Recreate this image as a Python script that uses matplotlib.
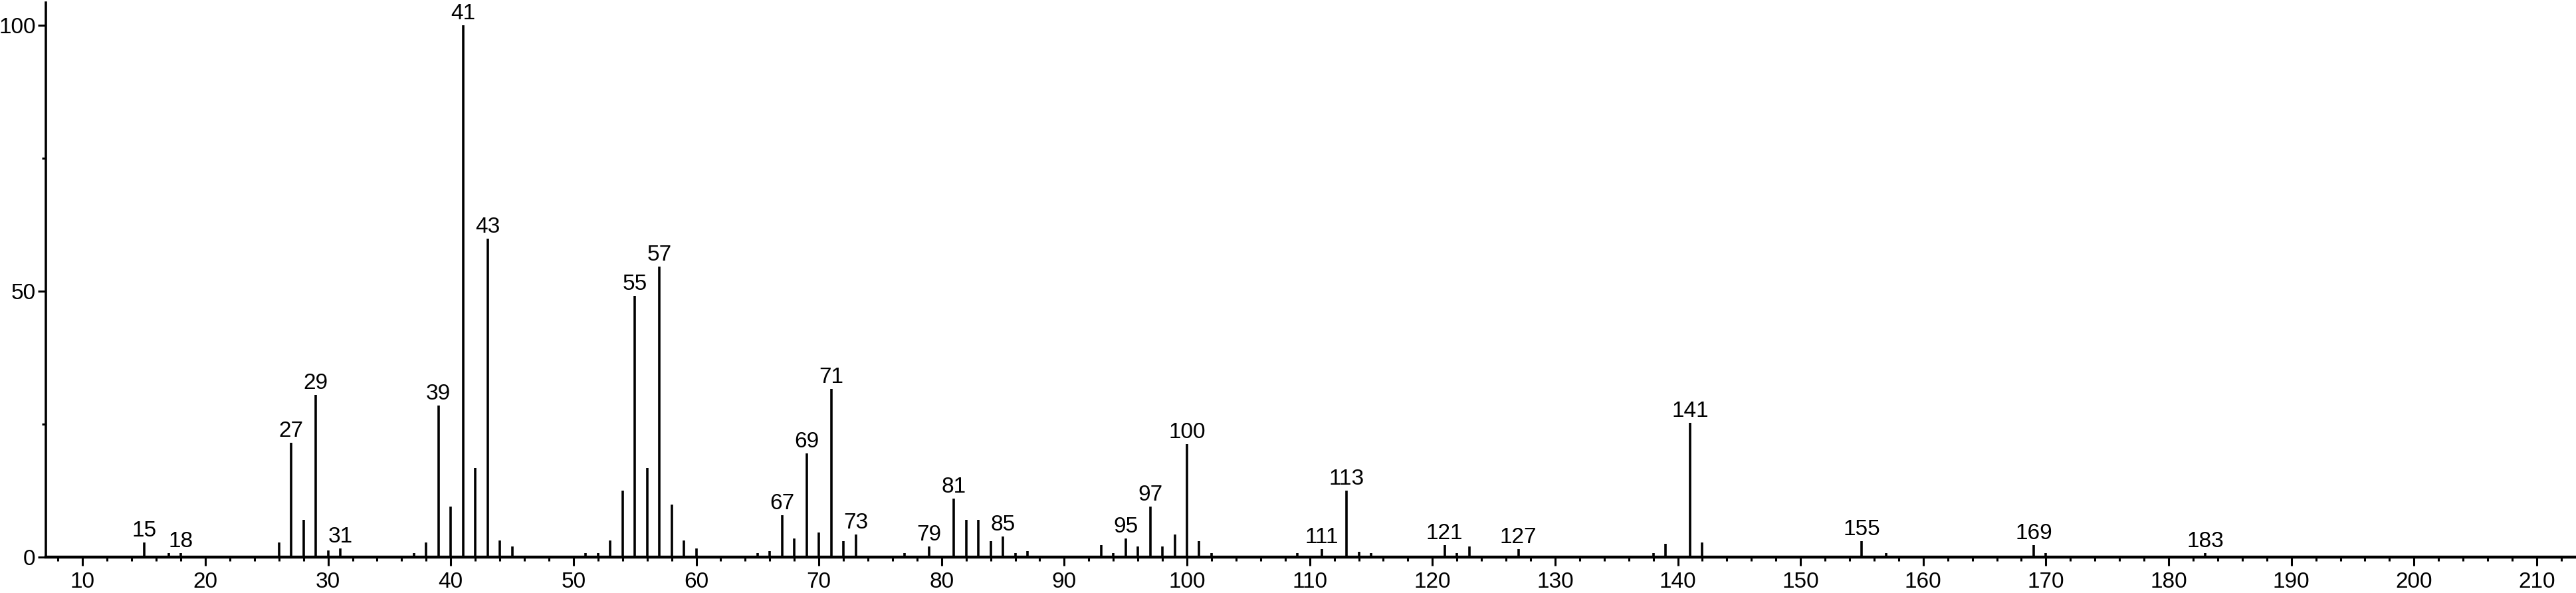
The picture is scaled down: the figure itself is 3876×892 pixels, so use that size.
import matplotlib.pyplot as plt
from matplotlib.ticker import MultipleLocator, FixedLocator

# m/z values and relative intensities
mz = [15, 17, 18, 26, 27, 28, 29, 30, 31, 37, 38, 39, 40, 41, 42, 43, 44, 45,
      51, 52, 53, 54, 55, 56, 57, 58, 59, 60, 65, 66, 67, 68, 69, 70, 71, 72, 73,
      77, 79, 81, 82, 83, 84, 85, 86, 87, 93, 94, 95, 96, 97, 98, 99, 100, 101, 102,
      109, 111, 113, 114, 115, 121, 122, 123, 127, 138, 139, 141, 142,
      155, 157, 169, 170, 183]
intensity = [2.7, 0.7, 0.7, 2.7, 21.4, 7.0, 30.4, 1.2, 1.6, 0.7, 2.7, 28.5, 9.4, 100.0, 16.7, 59.8, 3.1, 1.9,
             0.7, 0.7, 3.1, 12.5, 49.1, 16.7, 54.6, 9.8, 3.1, 1.6, 0.7, 1.1, 7.8, 3.5, 19.4, 4.6, 31.6, 3.0, 4.2,
             0.7, 1.9, 10.9, 6.9, 6.9, 3.0, 3.8, 0.7, 1.1, 2.2, 0.7, 3.4, 1.9, 9.4, 1.9, 4.2, 21.2, 3.0, 0.7,
             0.7, 1.5, 12.5, 1.0, 0.7, 2.2, 0.7, 1.9, 1.5, 0.7, 2.4, 25.2, 2.7,
             3.0, 0.7, 2.2, 0.7, 0.7]
labelled = [15, 18, 27, 29, 31, 39, 41, 43, 55, 57, 67, 69, 71, 73, 79, 81, 85,
            95, 97, 100, 111, 113, 121, 127, 141, 155, 169, 183]

plt.rcParams['font.family'] = ['Liberation Sans', 'DejaVu Sans']

fig = plt.figure(figsize=(38.76, 8.92), dpi=100)
ax = fig.add_axes([0.0178, 0.061, 0.9822, 0.9345])

ax.vlines(mz, 0, intensity, color='black', linewidth=2.6, capstyle='butt')

for m, h in zip(mz, intensity):
    if m in labelled:
        ax.annotate(str(m), (m, h), xytext=(0, 1.5), textcoords='offset points',
                    ha='center', va='bottom', fontsize=24)

ax.set_xlim(7, 213.2)
ax.set_ylim(0, 104.2)

ax.spines['top'].set_visible(False)
ax.spines['right'].set_visible(False)
ax.spines['left'].set_linewidth(2.6)
ax.spines['bottom'].set_linewidth(3.2)

ax.xaxis.set_major_locator(MultipleLocator(10))
ax.xaxis.set_minor_locator(MultipleLocator(2))
ax.yaxis.set_major_locator(FixedLocator([0, 50, 100]))
ax.yaxis.set_minor_locator(FixedLocator([25, 75]))

ax.tick_params(axis='x', which='major', length=9, width=2.2, labelsize=24, pad=7)
ax.tick_params(axis='x', which='minor', length=4.5, width=2.2)
ax.tick_params(axis='y', which='major', length=9, width=2.2, labelsize=24, pad=2)
ax.tick_params(axis='y', which='minor', length=4.5, width=2.2)

fig.savefig('out.png', dpi=100)
